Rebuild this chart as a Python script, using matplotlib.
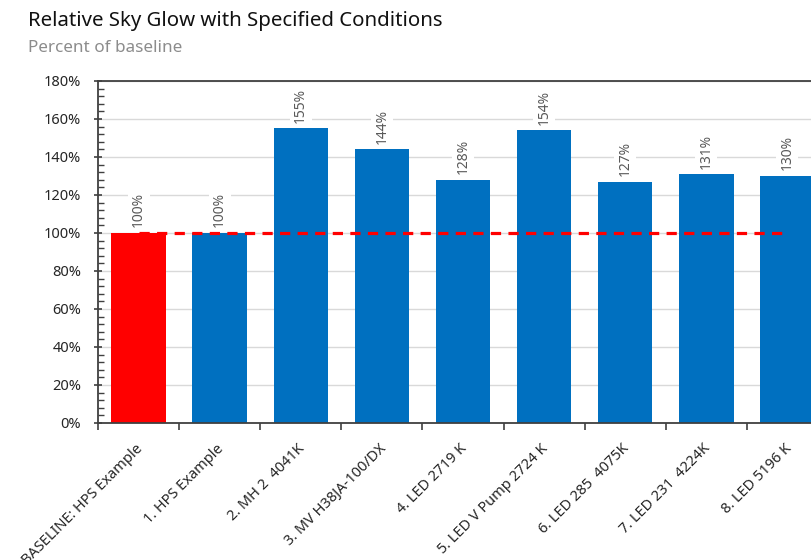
import matplotlib
matplotlib.use("Agg")
import matplotlib.pyplot as plt
from matplotlib.ticker import MultipleLocator, FuncFormatter

categories = [
    "BASELINE: HPS Example",
    "1. HPS Example",
    "2. MH 2  4041K",
    "3. MV H38JA-100/DX",
    "4. LED 2719 K",
    "5. LED V Pump 2724 K",
    "6. LED 285  4075K",
    "7. LED 231  4224K",
    "8. LED 5196 K",
]
values = [100, 100, 155, 144, 128, 154, 127, 131, 130]
baseline = 100

title = "Relative Sky Glow with Specified Conditions"
subtitle = "Percent of baseline"

RED = "#FF0000"
BLUE = "#0070C0"
AXIS = "#404040"
GRID = "#D9D9D9"
LABEL = "#595959"

plt.rcParams["font.family"] = ["Noto Sans", "DejaVu Sans"]

W, H, DPI = 812, 560, 100
fig = plt.figure(figsize=(W / DPI, H / DPI), dpi=DPI)

# plot area runs a little past the right edge of the canvas
left, right, bottom, top = 98, 828, 423, 81
ax = fig.add_axes([left / W, (H - bottom) / H, (right - left) / W, (bottom - top) / H])

x = list(range(len(categories)))
frac = [v / 100 for v in values]
colors = [RED] + [BLUE] * (len(values) - 1)
ax.bar(x, frac, width=0.67, color=colors, zorder=2)

ax.set_xlim(-0.5, len(categories) - 0.5)
ax.set_ylim(0, 1.8)

ax.yaxis.set_major_locator(MultipleLocator(0.2))
ax.yaxis.set_minor_locator(MultipleLocator(0.04))
ax.yaxis.set_major_formatter(FuncFormatter(lambda v, p: f"{v * 100:.0f}%"))
ax.grid(axis="y", which="major", color=GRID, lw=1.0, zorder=0)
ax.set_axisbelow(True)

ax.tick_params(axis="y", which="major", direction="inout", length=6, width=1.2,
               color=AXIS, labelsize=10.5, labelcolor="#262626", pad=9)
ax.tick_params(axis="y", which="minor", direction="in", length=4, width=1.0, color=AXIS)

# category ticks sit on the boundaries between bars
ax.set_xticks([i - 0.5 for i in x] + [len(x) - 0.5])
ax.set_xticklabels([])
ax.tick_params(axis="x", which="major", direction="out", length=5, width=1.2, color=AXIS)
for i, name in enumerate(categories):
    ax.annotate(name, xy=(i, 0), xycoords=("data", "axes fraction"),
                xytext=(-2.5, -13), textcoords="offset points",
                rotation=45, ha="right", va="top", rotation_mode="anchor",
                fontsize=10.5, color="#262626", annotation_clip=False)

for side in ["left", "bottom", "top", "right"]:
    ax.spines[side].set_color(AXIS)
    ax.spines[side].set_linewidth(1.3)

# baseline reference line
ax.plot([x[0], x[-1]], [baseline / 100, baseline / 100], color=RED, lw=2.3,
        linestyle=(0, (3.2, 2.3)), zorder=3, solid_capstyle="butt",
        dash_capstyle="butt")

for i, v in enumerate(values):
    ax.annotate(f"{v}%", xy=(i, v / 100), xytext=(0, 4), textcoords="offset points",
                rotation=90, ha="center", va="bottom", fontsize=10, color=LABEL,
                bbox=dict(boxstyle="square,pad=0.25", fc="white", ec="none"),
                zorder=4)

fig.text(28 / W, 1 - 21 / H, title, fontsize=14.7, color="#111111",
         ha="left", va="center")
fig.text(28 / W, 1 - 48 / H, subtitle, fontsize=12.3, color="#8c8c8c",
         ha="left", va="center")

fig.savefig("out.png", dpi=DPI)
